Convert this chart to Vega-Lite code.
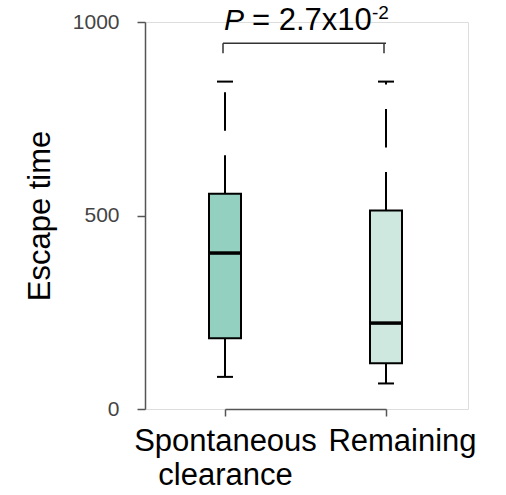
{
  "$schema": "https://vega.github.io/schema/vega-lite/v6.json",
  "width": 323,
  "height": 387,
  "autosize": "none",
  "padding": {"left": 145, "top": 22, "right": 38, "bottom": 86},
  "background": "white",
  "config": {
    "view": {"stroke": "#dddddd", "strokeWidth": 1},
    "font": "Liberation Sans"
  },
  "data": {
    "values": [
      {"g": "Spontaneous clearance", "min": 83, "q1": 183, "med": 403, "q3": 556, "max": 846},
      {"g": "Remaining", "min": 66, "q1": 118, "med": 222, "q3": 513, "max": 846}
    ]
  },
  "encoding": {
    "x": {
      "field": "g",
      "type": "nominal",
      "scale": {"type": "point", "domain": ["Spontaneous clearance", "Remaining"], "range": [80, 241], "padding": 0},
      "axis": {
        "title": null,
        "labelAngle": 0,
        "labelFontSize": 31,
        "labelColor": "#000000",
        "labelFont": "Liberation Sans",
        "labelPadding": 10,
        "labelLineHeight": 34,
        "labelBaseline": "top",
        "labelLimit": 0,
        "labelOverlap": false,
        "labelOffset": {"condition": {"test": "datum.value == 'Remaining'", "value": 16}, "value": 0},
        "labelExpr": "datum.value == 'Spontaneous clearance' ? ['Spontaneous', 'clearance'] : datum.value",
        "tickSize": 7,
        "tickColor": "#555555",
        "tickWidth": 1.5,
        "domainColor": "#555555",
        "domainWidth": 1.5,
        "grid": false
      }
    }
  },
  "layer": [
    {
      "mark": {"type": "rule", "strokeDash": [38.5, 24.5], "color": "#000000", "strokeWidth": 2},
      "encoding": {
        "y": {
          "field": "q3",
          "type": "quantitative",
          "scale": {"domain": [0, 1000], "nice": false},
          "axis": {
            "title": "Escape time",
            "titleFontSize": 31,
            "titleFontWeight": "normal",
            "titleColor": "#000000",
            "titleFont": "Liberation Sans",
            "titlePadding": 16,
            "values": [0, 500, 1000],
            "format": "d",
            "labelFontSize": 21,
            "labelColor": "#444444",
            "labelPadding": 18,
            "tickSize": 8,
            "tickColor": "#555555",
            "tickWidth": 1.5,
            "domainColor": "#555555",
            "domainWidth": 1.5,
            "grid": false
          }
        },
        "y2": {"field": "max"}
      }
    },
    {
      "mark": {"type": "rule", "strokeDash": [38.5, 24.5], "color": "#000000", "strokeWidth": 2},
      "encoding": {
        "y": {"field": "q1", "type": "quantitative"},
        "y2": {"field": "min"}
      }
    },
    {
      "mark": {"type": "tick", "orient": "horizontal", "size": 16, "thickness": 2, "color": "#000000", "opacity": 1},
      "encoding": {"y": {"field": "max", "type": "quantitative"}}
    },
    {
      "mark": {"type": "tick", "orient": "horizontal", "size": 16, "thickness": 2, "color": "#000000", "opacity": 1},
      "encoding": {"y": {"field": "min", "type": "quantitative"}}
    },
    {
      "mark": {"type": "bar", "width": 32, "stroke": "#000000", "strokeWidth": 2, "opacity": 1},
      "encoding": {
        "y": {"field": "q1", "type": "quantitative"},
        "y2": {"field": "q3"},
        "fill": {
          "field": "g",
          "type": "nominal",
          "scale": {"domain": ["Spontaneous clearance", "Remaining"], "range": ["#93D0BF", "#CEE8DF"]},
          "legend": null
        }
      }
    },
    {
      "mark": {"type": "tick", "orient": "horizontal", "size": 32, "thickness": 3.5, "color": "#000000", "opacity": 1},
      "encoding": {"y": {"field": "med", "type": "quantitative"}}
    },
    {
      "mark": {"type": "rule", "color": "#333333", "strokeWidth": 1.5, "xOffset": -2},
      "encoding": {
        "y": {"datum": 919},
        "y2": {"datum": 945}
      }
    },
    {
      "data": {"values": [{"a": "Spontaneous clearance", "b": "Remaining", "y": 945}]},
      "mark": {"type": "rule", "color": "#333333", "strokeWidth": 1.5, "xOffset": -2},
      "encoding": {
        "x": {"field": "a", "type": "nominal"},
        "x2": {"field": "b"},
        "y": {"field": "y", "type": "quantitative"}
      }
    },
    {
      "data": {"values": [{"a": "Spontaneous clearance", "y": 980, "t": "P"}]},
      "mark": {"type": "text", "align": "left", "baseline": "alphabetic", "fontSize": 30, "fontStyle": "italic", "dx": -1, "color": "#000000"},
      "encoding": {
        "x": {"field": "a", "type": "nominal"},
        "y": {"field": "y", "type": "quantitative"},
        "text": {"field": "t"}
      }
    },
    {
      "data": {"values": [{"a": "Spontaneous clearance", "y": 980, "t": "= 2.7x10"}]},
      "mark": {"type": "text", "align": "left", "baseline": "alphabetic", "fontSize": 31, "dx": 27, "color": "#000000"},
      "encoding": {
        "x": {"field": "a", "type": "nominal"},
        "y": {"field": "y", "type": "quantitative"},
        "text": {"field": "t"}
      }
    },
    {
      "data": {"values": [{"a": "Spontaneous clearance", "y": 1009, "t": "-2"}]},
      "mark": {"type": "text", "align": "left", "baseline": "alphabetic", "fontSize": 19, "dx": 147, "color": "#000000"},
      "encoding": {
        "x": {"field": "a", "type": "nominal"},
        "y": {"field": "y", "type": "quantitative"},
        "text": {"field": "t"}
      }
    }
  ]
}
